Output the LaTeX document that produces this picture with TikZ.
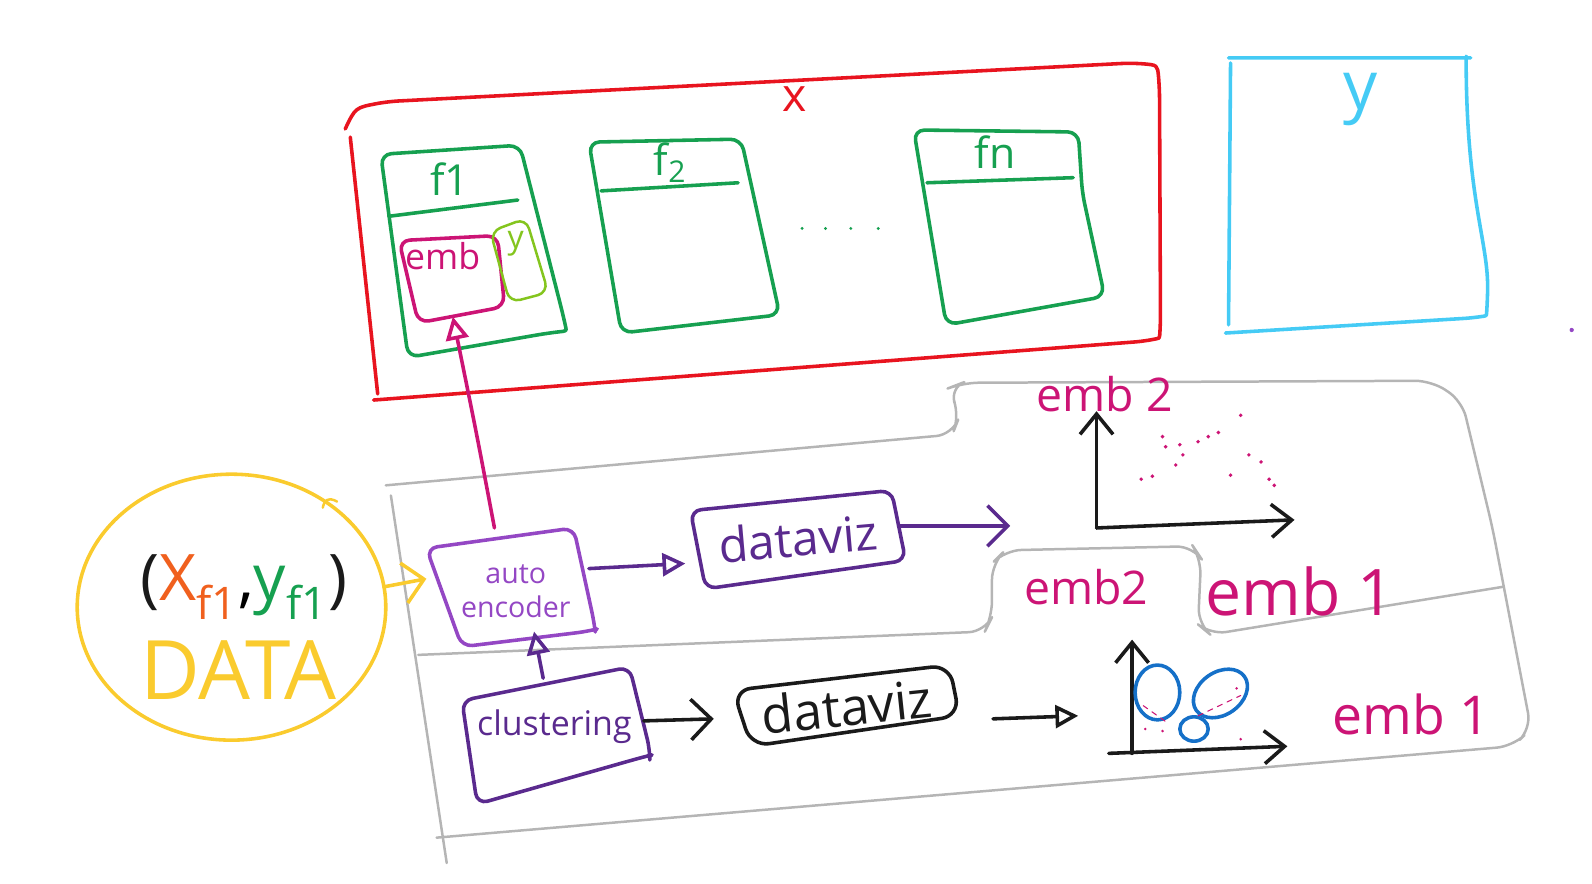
\documentclass[tikz,border=0pt]{standalone}
\usepackage{fontspec}
\setmainfont{Open Sans}
\usepackage{tikz}
\usetikzlibrary{arrows.meta,positioning,calc}
\definecolor{skred}{HTML}{E8141F}
\definecolor{skgreen}{HTML}{16A050}
\definecolor{skpink}{HTML}{CC1475}
\definecolor{sklime}{HTML}{84C51E}
\definecolor{skcyan}{HTML}{45CBF5}
\definecolor{skyellow}{HTML}{FACB2E}
\definecolor{skorange}{HTML}{F0601E}
\definecolor{skviolet}{HTML}{9447C4}
\definecolor{skplum}{HTML}{5A2A8E}
\definecolor{skgray}{HTML}{B5B5B5}
\definecolor{skblue}{HTML}{1570C8}
\definecolor{skink}{HTML}{1A1A1A}

\begin{document}
\begin{tikzpicture}[
    x=0.02cm,
    y=-0.02cm,
    line cap=round,
    line join=round,
    pen/.style={line width=2pt, rounded corners=6pt},
    thinpen/.style={line width=1.4pt, rounded corners=9pt, draw=skgray},
    hand/.style={inner sep=1pt, font=\fontsize{24}{26}\selectfont},
    conn/.style={line width=2pt, -{Triangle[open,length=4.5mm,width=4.5mm]}},
    chev/.style={line width=2pt, -{Straight Barb[length=4mm,width=8mm]}},
    axis/.style={pen, -{Straight Barb[length=4mm,width=6.5mm]}}
  ]
    \useasboundingbox (0,0) rectangle (1568,870);

    % feature store X
    \draw[pen, skred] (340,127) .. controls (350,106) .. (382,100) -- (1115,62) .. controls (1140,64) .. (1142,86) -- (1143,320) .. controls (1142,333) .. (1128,336) -- (368,394);
    \draw[pen, skred] (345,135) -- (372,388);
    \node[hand, skred, font=\fontsize{26}{26}\selectfont] (xlabel) at (783,98) {x};

    % f1 column
    \draw[pen, skgreen] (375,152) -- (512,143) -- (555,312) .. controls (558,326) .. (540,328) -- (402,352) -- cycle;
    \draw[pen, skgreen] (383,213) -- (510,197);
    \node[hand, skgreen] (f1) at (443,176) {f1};
    \draw[pen, skpink] (393,237) -- (490,232) -- (497,302) -- (412,318) -- cycle;
    \node[hand, skpink, font=\fontsize{20}{22}\selectfont] (emb) at (436,252) {emb};
    \coordinate (embS) at (446,312);
    \draw[pen, sklime, line width=1.4pt] (483,228) -- (518,215) -- (540,288) -- (502,298) -- cycle;
    \node[hand, sklime, font=\fontsize{18}{20}\selectfont] (ycol) at (508,240) {y};

    % f2 column
    \draw[pen, skgreen] (580,140) -- (730,137) -- (768,310) -- (612,328) -- cycle;
    \draw[pen, skgreen] (592,188) -- (727,180);
    \node[hand, skgreen] (f2) at (660,160) {f\textsubscript{2}};

    \foreach \x in {790,813,838,865}
      \fill[skgreen] (\x,225) circle (0.9pt);

    % fn column
    \draw[pen, skgreen] (900,128) -- (1062,130) -- (1066,190) -- (1088,292) -- (932,320) -- cycle;
    \draw[pen, skgreen] (913,180) -- (1057,175);
    \node[hand, skgreen] (fn) at (980,150) {fn};

    % target y
    \draw[pen, skcyan] (1210,57) -- (1438,57) .. controls (1444,57) .. (1444,66) .. controls (1446,200) and (1466,240) .. (1465,296) .. controls (1464,311) .. (1452,313) -- (1207,328);
    \draw[pen, skcyan] (1212,62) -- (1210,320);
    \node[hand, skcyan, font=\fontsize{38}{38}\selectfont] (ytarget) at (1340,98) {y};
    \fill[skviolet] (1548,325) circle (1.2pt);

    % pipeline frame
    \draw[thinpen] (380,478) -- (938,428) -- (945,410) -- (935,382) -- (948,377) -- (1410,375) -- (1440,395) -- (1470,520) -- (1508,718) -- (1490,735) -- (430,825);
    \draw[thinpen] (385,488) -- (440,850);
    \draw[thinpen] (412,645) -- (970,622) -- (977,608) -- (977,555) -- (990,542) -- (1175,538) -- (1183,550) -- (1180,615) -- (1192,625) -- (1480,578);

    % data
    \draw[pen, skyellow] (228,598) ellipse [x radius=3.04cm, y radius=2.62cm];
    \draw[pen, skyellow, line width=1.4pt] (318,500) -- (320,488) -- (332,494);
    \node[hand, font=\fontsize{36}{38}\selectfont] (pair) at (240,578) {\textcolor{skink}{(}\textcolor{skorange}{X\textsubscript{f1}},\textcolor{skgreen}{y\textsubscript{f1}}\textcolor{skink}{)}};
    \node[hand, skyellow, font=\fontsize{46}{48}\selectfont] (data) at (235,660) {DATA};
    \coordinate (dataE) at (378,578);

    % autoencoder
    \draw[pen, skviolet] (420,540) -- (565,520) -- (585,612) .. controls (586,620) .. (578,622) -- (455,637) -- cycle;
    \node[hand, skviolet, align=center, font=\fontsize{16}{19}\selectfont] (auto) at (508,582) {auto\\encoder};
    \coordinate (autoW) at (420,570);
    \coordinate (autoN) at (487,520);
    \coordinate (autoE) at (580,560);
    \coordinate (autoS) at (526,622);

    % dataviz (top row)
    \draw[pen, skplum] (680,503) -- (878,483) -- (892,552) -- (695,580) -- cycle;
    \node[hand, skplum, rotate=5, font=\fontsize{27}{29}\selectfont] (vizA) at (786,530) {dataviz};
    \coordinate (vizAW) at (675,555);
    \coordinate (vizAE) at (885,518);
    \coordinate (plotA) at (995,518);

    % embedding plot
    \coordinate (origA) at (1080,520);
    \draw[axis, skink] (origA) -- (1080,405);
    \draw[axis, skink] (origA) -- (1275,512);
    \node[hand, skpink, font=\fontsize{26}{28}\selectfont] (embtwo) at (1088,388) {emb 2};
    \node[hand, skpink, font=\fontsize{36}{38}\selectfont] (embone) at (1280,582) {emb 1};
    \node[hand, skpink, font=\fontsize{26}{28}\selectfont] (embmid) at (1070,578) {emb2};
    \foreach \p in {(1124,472),(1135,469),(1148,440),(1158,458),(1165,448),(1180,435),(1190,430),(1200,426),(1212,468),(1222,409),(1230,448),(1242,455),(1250,472),(1145,430),(1162,438),(1255,478)}
      \fill[skpink] \p circle (1.1pt);

    % clustering
    \draw[pen, skplum] (455,690) -- (620,657) -- (640,738) .. controls (640,744) .. (632,746) -- (470,792) -- cycle;
    \node[hand, skplum, font=\fontsize{19}{21}\selectfont] (clus) at (546,716) {clustering};
    \coordinate (clusN) at (535,668);
    \coordinate (clusE) at (634,710);

    % dataviz (bottom row)
    \draw[pen, skink, rounded corners=10pt] (722,680) -- (935,655) -- (945,705) -- (740,735) -- cycle;
    \node[hand, skink, rotate=6, font=\fontsize{29}{31}\selectfont] (vizB) at (834,696) {dataviz};
    \coordinate (vizBW) at (703,708);
    \coordinate (vizBE) at (978,708);
    \coordinate (plotB) at (1062,705);

    % cluster plot
    \coordinate (origB) at (1115,742);
    \draw[axis, skink] (origB) -- (1115,630);
    \draw[axis, skink] (1092,742) -- (1268,735);
    \draw[pen, skblue] (1140,682) ellipse [x radius=0.44cm, y radius=0.54cm];
    \draw[pen, skblue, rotate around={35:(1202,683)}] (1202,683) ellipse [x radius=0.58cm, y radius=0.42cm];
    \draw[pen, skblue] (1176,718) ellipse [x radius=0.28cm, y radius=0.24cm];
    \draw[skpink, line width=0.6pt, dashed] (1180,705) -- (1222,685);
    \draw[skpink, line width=0.6pt, dashed] (1126,695) -- (1150,712);
    \foreach \p in {(1128,718),(1145,720),(1222,728),(1218,678)}
      \fill[skpink] \p circle (0.8pt);
    \node[hand, skpink, font=\fontsize{30}{32}\selectfont] (embp) at (1390,704) {emb 1};

    % connectors
    \draw[chev, skyellow] (dataE) -- (autoW);
    \draw[conn, skpink] (autoN) .. controls (470,430) .. (embS);
    \draw[conn, skplum] (autoE) -- (vizAW);
    \draw[chev, skplum] (vizAE) -- (plotA);
    \draw[conn, skplum] (clusN) -- (autoS);
    \draw[chev, skink] (clusE) -- (vizBW);
    \draw[conn, skink] (vizBE) -- (plotB);
  \end{tikzpicture}
\end{document}
